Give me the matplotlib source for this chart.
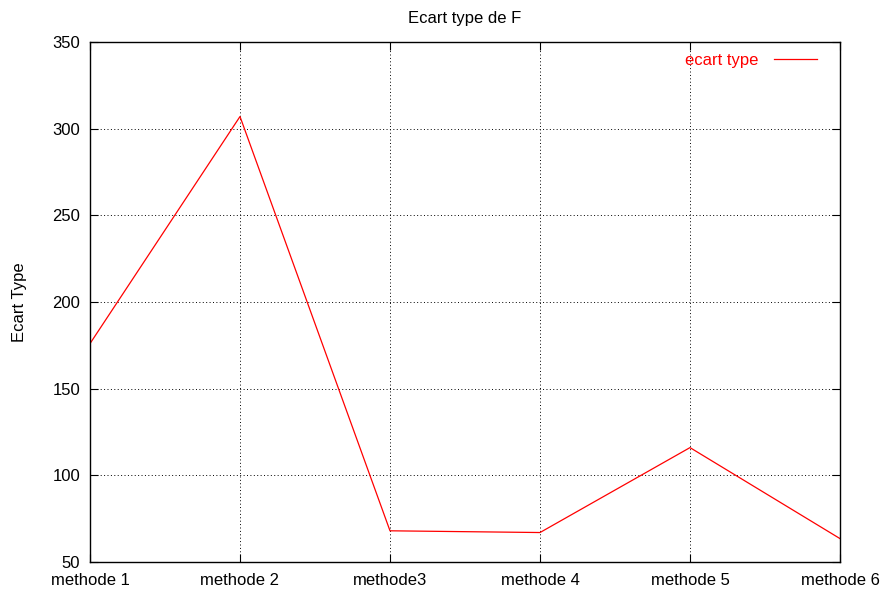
import matplotlib
matplotlib.use("Agg")
import matplotlib.pyplot as plt

plt.rcParams['font.family'] = ['Liberation Sans', 'DejaVu Sans']

methods = ["methode 1", "methode 2", "methode3", "methode 4", "methode 5", "methode 6"]
ecart_type = [176, 307, 68, 67, 116, 63.5]
y_ticks = [50, 100, 150, 200, 250, 300, 350]

fig = plt.figure(figsize=(8.82, 5.90), dpi=100)
ax = fig.add_axes([90 / 882, 28 / 590, 750 / 882, 520 / 590])

x = list(range(len(methods)))
ax.plot(x, ecart_type, color="red", linewidth=0.9, label="ecart type")

ax.set_xlim(0, len(methods) - 1)
ax.set_ylim(50, 350)
ax.set_xticks(x)
ax.set_xticklabels(methods, fontsize=12)
ax.set_yticks(y_ticks)
ax.set_yticklabels([str(v) for v in y_ticks], fontsize=12)

ax.grid(True, color="black", linestyle=(0, (1, 2.5)), linewidth=0.7)
ax.tick_params(direction="in", length=6, width=0.8, top=True, right=True)
ax.tick_params(axis="x", pad=8)
ax.tick_params(axis="y", pad=7)
for s in ax.spines.values():
    s.set_linewidth(1.0)
    s.set_color("black")

ax.set_ylabel("Ecart Type", fontsize=12, labelpad=18)
ax.set_title("Ecart type de F", fontsize=12, pad=14)

leg = ax.legend(loc="upper right", frameon=False, fontsize=12, handlelength=2.6,
                markerfirst=False, handletextpad=0.9, bbox_to_anchor=(0.985, 1.002),
                borderaxespad=0.3)
for t in leg.get_texts():
    t.set_color("red")

fig.savefig("out.png", dpi=100)
